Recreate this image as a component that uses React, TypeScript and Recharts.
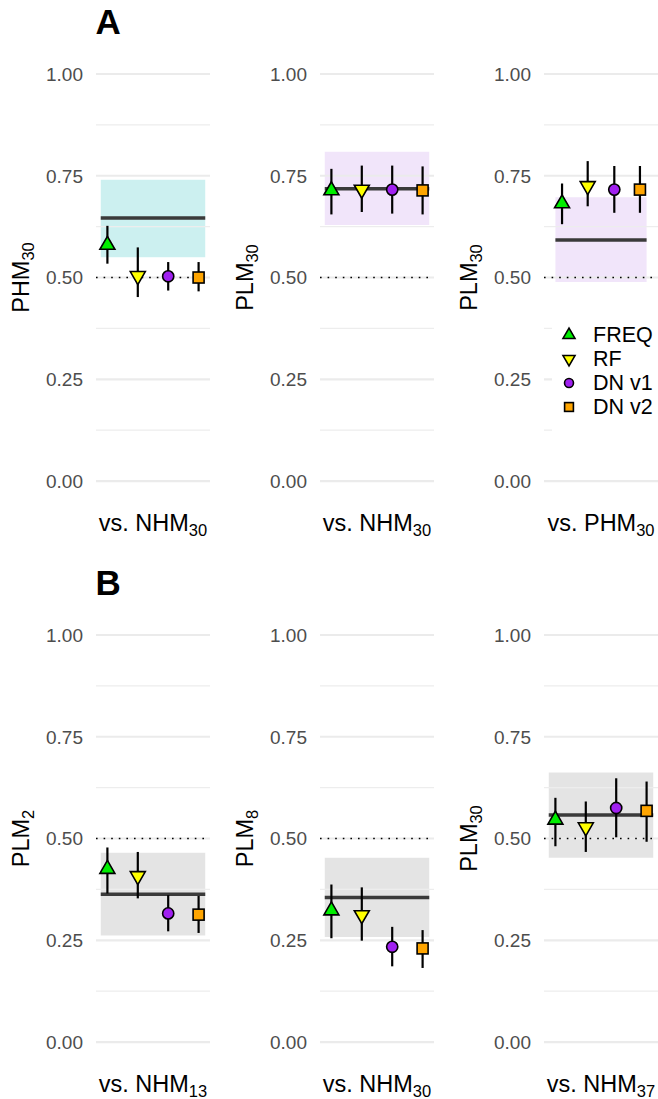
import React from 'react';
import {
  ComposedChart,
  Scatter,
  XAxis,
  YAxis,
  ReferenceLine,
  ReferenceArea,
  ErrorBar,
  Legend,
} from 'recharts';

// ---------------- data ----------------
const models = ['FREQ', 'RF', 'DN v1', 'DN v2'];

const yTitleMain = ['PHM', 'PLM', 'PLM', 'PLM', 'PLM', 'PLM'];
const yTitleSub = ['30', '30', '30', '2', '8', '30'];
const xTitleMain = ['vs. NHM', 'vs. NHM', 'vs. PHM', 'vs. NHM', 'vs. NHM', 'vs. NHM'];
const xTitleSub = ['30', '30', '30', '13', '30', '37'];

const estimates = [
  [0.58, 0.504, 0.503, 0.5],
  [0.714, 0.716, 0.716, 0.714],
  [0.682, 0.725, 0.716, 0.716],
  [0.425, 0.408, 0.316, 0.313],
  [0.323, 0.312, 0.234, 0.23],
  [0.546, 0.528, 0.575, 0.568],
];
const lowerCI = [
  [0.534, 0.452, 0.468, 0.466],
  [0.655, 0.661, 0.657, 0.655],
  [0.631, 0.675, 0.659, 0.659],
  [0.365, 0.353, 0.272, 0.268],
  [0.255, 0.249, 0.186, 0.182],
  [0.481, 0.467, 0.503, 0.492],
];
const upperCI = [
  [0.627, 0.574, 0.538, 0.538],
  [0.767, 0.775, 0.775, 0.773],
  [0.731, 0.786, 0.774, 0.774],
  [0.478, 0.467, 0.361, 0.359],
  [0.387, 0.38, 0.283, 0.275],
  [0.6, 0.591, 0.648, 0.64],
];

const refEstimate = [0.646, 0.718, 0.592, 0.363, 0.355, 0.558];
const refLower = [0.55, 0.629, 0.489, 0.262, 0.258, 0.453];
const refUpper = [0.74, 0.809, 0.697, 0.465, 0.453, 0.662];

const xCategory = 1;
const dodgeOffsets = [
  [-0.48, -0.16, 0.16, 0.48],
  [-0.48, -0.16, 0.16, 0.48],
  [-0.41, -0.14, 0.14, 0.41],
  [-0.48, -0.16, 0.16, 0.48],
  [-0.48, -0.16, 0.16, 0.48],
  [-0.48, -0.16, 0.16, 0.48],
];
const bandHalfWidth = [0.55, 0.55, 0.48, 0.55, 0.55, 0.55];

const yTicks = [0, 0.25, 0.5, 0.75, 1];
const yMinorTicks = [0.125, 0.375, 0.625, 0.875];
const chanceLevel = 0.5;
const rowLetters = ['A', 'B'];

// ---------------- styles ----------------
const FONT = '"Liberation Sans", Arial, Helvetica, sans-serif';
const modelFills = ['#00EE00', '#FFFF00', '#A020F0', '#FFA500'];
const bandFills = ['#00B4B4', '#B97DE6', '#B97DE6', '#787878', '#787878', '#787878'];

const PANEL_W = 114;
const Y_AXIS_W = 96;
const CHART_H = 561.4;
const MARGIN_TOP = 53.65;
const X_AXIS_H = 60;
const COL_STEP = 224;
const ROW_STEP = 561;

function Marker({ kind, cx, cy, fill, scale = 1 }: any) {
  const sw = 1.6;
  if (kind === 0 || kind === 1) {
    const s = 15 * scale;
    const h = s * 0.866;
    const pts =
      kind === 0
        ? [
            [cx, cy - (2 * h) / 3],
            [cx - s / 2, cy + h / 3],
            [cx + s / 2, cy + h / 3],
          ]
        : [
            [cx, cy + (2 * h) / 3],
            [cx - s / 2, cy - h / 3],
            [cx + s / 2, cy - h / 3],
          ];
    return (
      <polygon
        points={pts.map((p) => p.join(',')).join(' ')}
        fill={fill}
        stroke="#000"
        strokeWidth={sw}
        strokeLinejoin="miter"
      />
    );
  }
  if (kind === 2) {
    return <circle cx={cx} cy={cy} r={5.6 * scale} fill={fill} stroke="#000" strokeWidth={sw} />;
  }
  const a = 11 * scale;
  return <rect x={cx - a / 2} y={cy - a / 2} width={a} height={a} fill={fill} stroke="#000" strokeWidth={sw} />;
}

function XTitleTick(props: any) {
  const { x, y, idx } = props;
  return (
    <text x={x} y={y + 30} textAnchor="middle" fontSize={23.5} fill="#000" fontFamily={FONT}>
      {xTitleMain[idx]}
      <tspan dy={5} fontSize={16.5}>
        {xTitleSub[idx]}
      </tspan>
    </text>
  );
}

function LegendBox() {
  return (
    <div
      style={{
        background: '#fff',
        width: 106,
        height: 121,
        paddingTop: 12,
        boxSizing: 'border-box',
        fontFamily: FONT,
      }}
    >
      {models.map((m, i) => (
        <div key={m} style={{ position: 'relative', height: 24 }}>
          <svg width={30} height={24} style={{ position: 'absolute', left: 2, top: 0 }}>
            <Marker kind={i} cx={15} cy={12} fill={modelFills[i]} scale={0.8} />
          </svg>
          <span
            style={{
              position: 'absolute',
              left: 41,
              top: 0,
              lineHeight: '24px',
              fontSize: 21.5,
              color: '#000',
              whiteSpace: 'nowrap',
            }}
          >
            {m}
          </span>
        </div>
      ))}
    </div>
  );
}

function Panel({ idx }: { idx: number }) {
  const col = idx % 3;
  const row = Math.floor(idx / 3);
  const width = col === 2 ? 658 - COL_STEP * 2 : COL_STEP;
  const rightMargin = width - Y_AXIS_W - PANEL_W;
  const half = bandHalfWidth[idx];

  const seriesData = models.map((m, i) => [
    {
      x: xCategory + dodgeOffsets[idx][i],
      y: estimates[idx][i],
      err: [estimates[idx][i] - lowerCI[idx][i], upperCI[idx][i] - estimates[idx][i]],
    },
  ]);

  return (
    <div style={{ position: 'absolute', left: col * COL_STEP, top: row * ROW_STEP }}>
      <ComposedChart
        width={width}
        height={CHART_H}
        margin={{ top: MARGIN_TOP, right: Math.max(rightMargin, 0), bottom: 0, left: 0 }}
      >
        <XAxis
          type="number"
          dataKey="x"
          domain={[0.4, 1.6]}
          ticks={[xCategory]}
          interval={0}
          allowDataOverflow
          axisLine={false}
          tickLine={false}
          tickSize={0}
          tickMargin={0}
          height={X_AXIS_H}
          tick={<XTitleTick idx={idx} />}
        />
        <YAxis
          type="number"
          dataKey="y"
          domain={[-0.05, 1.05]}
          ticks={yTicks}
          interval={0}
          allowDataOverflow
          width={Y_AXIS_W}
          axisLine={false}
          tickLine={false}
          tickSize={0}
          tickMargin={13}
          tickFormatter={(v: number) => v.toFixed(2)}
          tick={{ fill: '#4D4D4D', fontSize: 19, fontFamily: FONT }}
          label={{
            content: (p: any) => {
              const vb = p.viewBox || { x: 0, y: MARGIN_TOP, width: Y_AXIS_W, height: 447.7 };
              const cx = 29;
              const cy = vb.y + vb.height / 2;
              return (
                <text
                  x={cx}
                  y={cy}
                  textAnchor="middle"
                  fontSize={23.5}
                  fill="#000"
                  fontFamily={FONT}
                  transform={`rotate(-90, ${cx}, ${cy})`}
                >
                  {yTitleMain[idx]}
                  <tspan dy={5} fontSize={16.5}>
                    {yTitleSub[idx]}
                  </tspan>
                </text>
              );
            },
          }}
        />
        {yMinorTicks.map((v) => (
          <ReferenceLine key={'mi' + v} y={v} stroke="#EDEDED" strokeWidth={1.2} />
        ))}
        {yTicks.map((v) => (
          <ReferenceLine key={'ma' + v} y={v} stroke="#EBEBEB" strokeWidth={2.2} />
        ))}
        <ReferenceArea
          x1={xCategory - half}
          x2={xCategory + half}
          y1={refLower[idx]}
          y2={refUpper[idx]}
          fill={bandFills[idx]}
          fillOpacity={0.2}
          stroke="none"
        />
        <ReferenceLine y={chanceLevel} stroke="#000" strokeWidth={1.6} strokeDasharray="1.6 6" />
        <ReferenceLine
          segment={[
            { x: xCategory - half, y: refEstimate[idx] },
            { x: xCategory + half, y: refEstimate[idx] },
          ]}
          stroke="#3A3A3A"
          strokeWidth={3.5}
        />
        {models.map((m, i) => (
          <Scatter
            key={m}
            name={m}
            data={seriesData[i]}
            dataKey="y"
            isAnimationActive={false}
            shape={(p: any) => <Marker kind={i} cx={p.cx} cy={p.cy} fill={modelFills[i]} />}
          >
            <ErrorBar
              dataKey="err"
              direction="y"
              width={0}
              stroke="#000"
              strokeWidth={2.2}
              isAnimationActive={false}
            />
          </Scatter>
        ))}
        {idx === 2 ? (
          <Legend
            layout="horizontal"
            verticalAlign="middle"
            align="center"
            content={() => <LegendBox />}
            wrapperStyle={{ position: 'absolute', left: 552 - COL_STEP * 2, top: 311, width: 106, height: 121 }}
          />
        ) : null}
      </ComposedChart>
    </div>
  );
}

export default function App() {
  return (
    <div
      style={{
        position: 'absolute',
        left: 0,
        top: 0,
        width: 658,
        height: 1099,
        background: '#fff',
        overflow: 'hidden',
      }}
    >
      {[0, 1, 2, 3, 4, 5].map((i) => (
        <Panel key={i} idx={i} />
      ))}
      {rowLetters.map((L, r) => (
        <svg
          key={L}
          width={60}
          height={45}
          style={{ position: 'absolute', left: 90, top: r * ROW_STEP }}
        >
          <text x={5.5} y={34} fontSize={35} fontWeight="bold" fontFamily={FONT} fill="#000">
            {L}
          </text>
        </svg>
      ))}
    </div>
  );
}
